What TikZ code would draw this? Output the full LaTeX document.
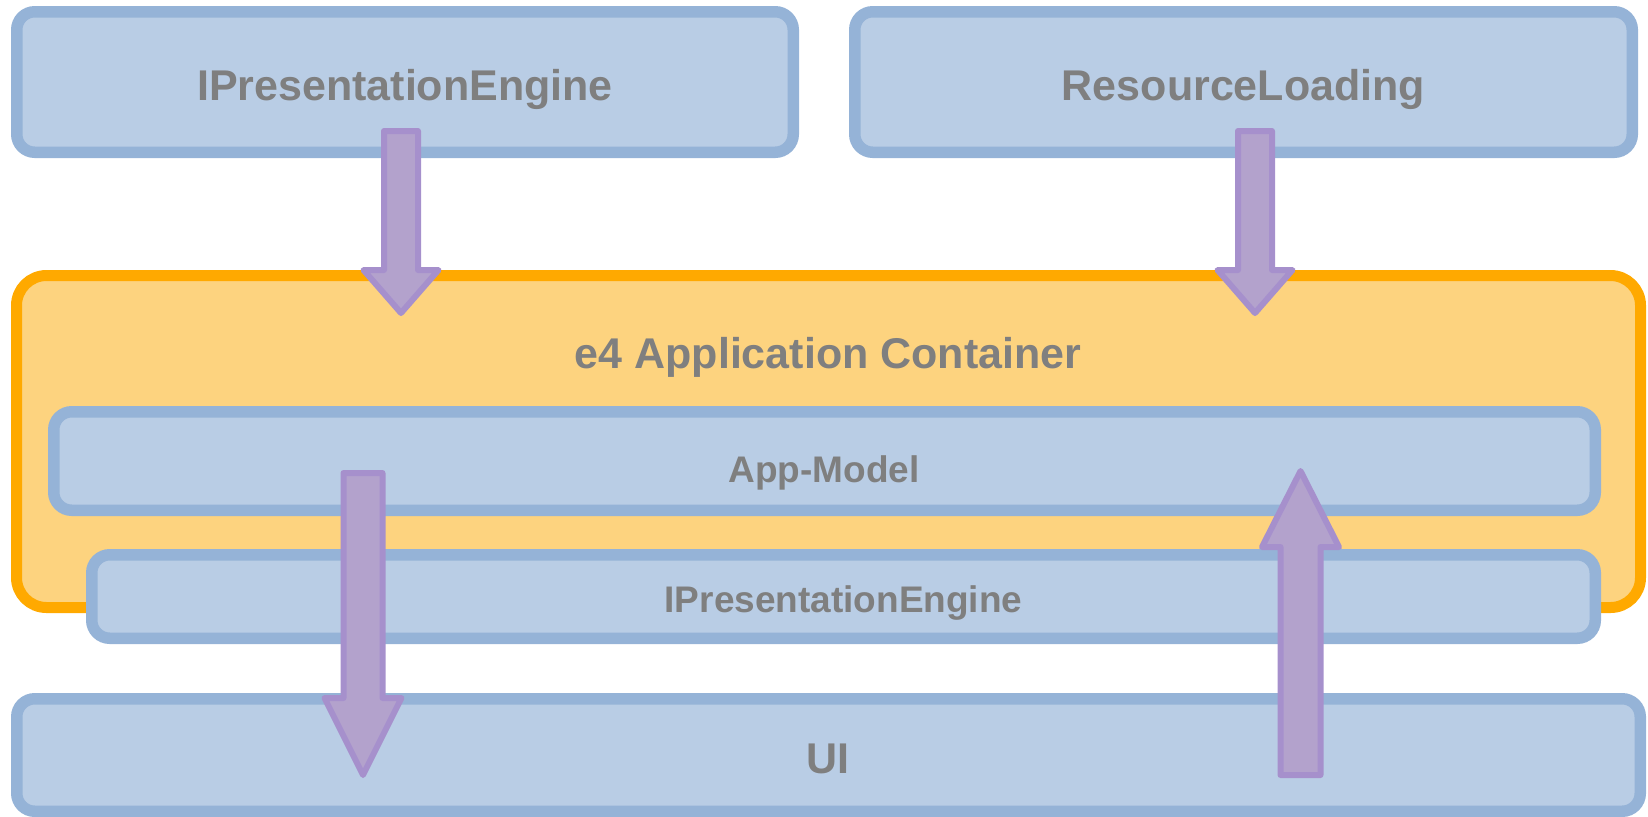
\documentclass[tikz,border=0pt]{standalone}
\usepackage{fontspec}
\setmainfont{Liberation Sans}
\usetikzlibrary{calc}
\definecolor{bfill}{HTML}{B9CDE5}
\definecolor{bline}{HTML}{95B3D7}
\definecolor{ofill}{HTML}{FDD37F}
\definecolor{oline}{HTML}{FFA900}
\definecolor{afill}{HTML}{B3A2CC}
\definecolor{aline}{HTML}{A690CC}
\definecolor{tgray}{HTML}{7F7F7F}
\newcommand{\blkarrow}[5]{\draw[barrow] ($(#1)+(-#4,0)$) -- ($(#1)+(#4,0)$) -- ($(#2)+(#4,0)$) -- ($(#2)+(#5,0)$) -- (#3) -- ($(#2)+(-#5,0)$) -- ($(#2)+(-#4,0)$) -- cycle;}
\begin{document}
\begin{tikzpicture}[x=0.5pt,y=-0.5pt,
  layerbox/.style={draw=bline, fill=bfill, line width=5.75pt, rounded corners=9pt, inner sep=0pt},
  contbox/.style={draw=oline, fill=ofill, line width=5.5pt, rounded corners=15pt, inner sep=0pt},
  biglbl/.style={text=tgray, font=\fontsize{21.5}{24}\selectfont\bfseries, anchor=base, inner sep=0pt},
  smalllbl/.style={text=tgray, font=\fontsize{18.5}{21}\selectfont\bfseries, anchor=base, inner sep=0pt},
  barrow/.style={draw=aline, fill=afill, line width=3pt, line join=round}]
\useasboundingbox (0,0) rectangle (1648,816);

\node[layerbox, minimum width=388.25pt, minimum height=70.25pt] (peTop) at (405,82) {};
\node[layerbox, minimum width=388.75pt, minimum height=70.25pt] (rl) at (1243.5,82) {};
\node[contbox, minimum width=812pt, minimum height=166pt] (cont) at (828.5,441.5) {};
\node[layerbox, minimum width=770.75pt, minimum height=49.25pt] (am) at (824.5,461) {};
\node[layerbox, minimum width=751.75pt, minimum height=41.75pt] (pe2) at (843.5,596.5) {};
\node[layerbox, minimum width=811.75pt, minimum height=56.25pt] (ui) at (828.5,755) {};

\node[biglbl] (tPe) at (405,100) {IPresentationEngine};
\node[biglbl] (tRl) at (1243.5,100) {ResourceLoading};
\node[biglbl] (tCont) at (828,368) {e4 Application Container};
\node[smalllbl] (tAm) at (824,482) {App-Model};
\node[smalllbl] (tPe2) at (843.5,612) {IPresentationEngine};
\node[biglbl] (tUi) at (828,773) {UI};

\coordinate (a1s) at (401,131);
\coordinate (a1b) at (401,270);
\coordinate (a1e) at (401,313);
\coordinate (a2s) at (1255,131);
\coordinate (a2b) at (1255,270);
\coordinate (a2e) at (1255,313);
\coordinate (a3s) at (363,473);
\coordinate (a3b) at (363,698);
\coordinate (a3e) at (363,775);
\coordinate (a4s) at (1300.5,775);
\coordinate (a4b) at (1300.5,547);
\coordinate (a4e) at (1300.5,471);

\blkarrow{a1s}{a1b}{a1e}{17}{37.5}
\blkarrow{a2s}{a2b}{a2e}{17}{37.5}
\blkarrow{a3s}{a3b}{a3e}{19.5}{38.5}
\blkarrow{a4s}{a4b}{a4e}{20}{38.5}
\end{tikzpicture}
\end{document}
